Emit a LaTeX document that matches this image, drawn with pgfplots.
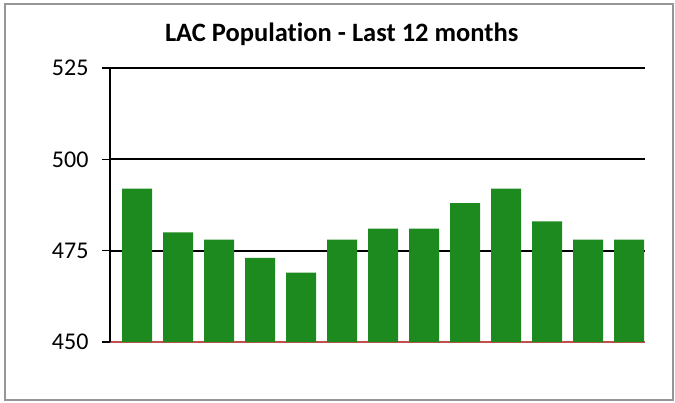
\documentclass[border=0pt]{standalone}
\usepackage{fontspec}
\setmainfont{Carlito}[Ligatures=NoCommon]
\usepackage{pgfplots}
\pgfplotsset{compat=1.18}
\definecolor{barGreen}{RGB}{28,138,30}
\definecolor{baseRed}{RGB}{192,80,77}
\definecolor{frameGray}{RGB}{150,150,150}

\begin{document}
\begin{tikzpicture}
\begin{axis}[
    scale only axis,
    width=535pt, height=274pt,
    ybar, bar width=30pt,
    xmin=-0.66, xmax=12.39,
    ymin=450, ymax=525,
    ytick={450,475,500,525},
    xtick=\empty,
    axis x line*=bottom,
    axis y line*=left,
    x axis line style={baseRed, line width=1.8pt, -},
    y axis line style={black, line width=1.4pt, -},
    ymajorgrids,
    major grid style={black, line width=2pt},
    ytick style={black, line width=1.4pt},
    tick align=outside,
    major tick length=8pt,
    yticklabel style={font=\fontsize{24}{28}\selectfont, xshift=-10pt},
    /pgf/number format/assume math mode=true,
    title={LAC Population - Last 12 months},
    title style={font=\fontsize{26.5}{30}\selectfont\bfseries, at={(axis description cs:0.433,1.10)}, anchor=center},
]
\addplot[fill=barGreen, draw=none] coordinates {
(0,492) (1,480) (2,478) (3,473) (4,469) (5,478) (6,481)
(7,481) (8,488) (9,492) (10,483) (11,478) (12,478)};
\end{axis}
\draw[frameGray, line width=1.5pt] (-105pt,-58pt) rectangle (563pt,338pt);
\path (-110pt,-60pt) rectangle (565pt,342pt);
\end{tikzpicture}
\end{document}
